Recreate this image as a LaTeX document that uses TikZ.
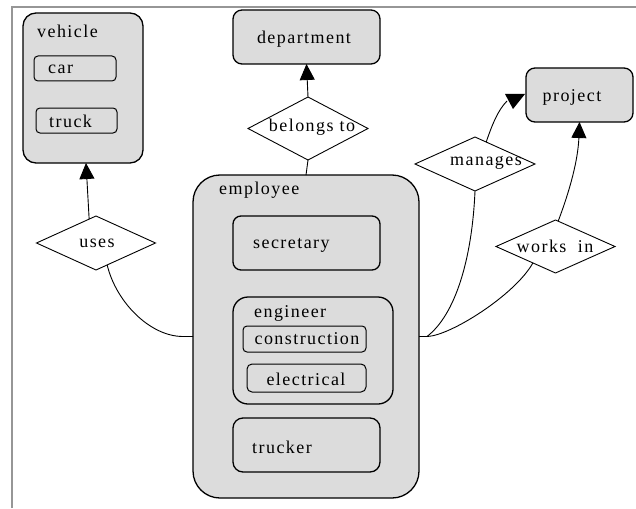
\documentclass[tikz,border=0pt]{standalone}
\usepackage{fontspec}
\setmainfont{Liberation Serif}[LetterSpace=8]
\usetikzlibrary{arrows.meta,shapes.geometric}
\definecolor{boxfill}{RGB}{220,220,220}
\definecolor{framegray}{RGB}{150,150,150}
\begin{document}
\begin{tikzpicture}[x=1pt,y=-1pt,
  font=\fontsize{18}{21}\selectfont,
  ebox/.style={draw=black, line width=1.3pt, fill=boxfill, inner sep=0pt, outer sep=0pt},
  rel/.style={draw=black, line width=0.9pt, diamond, fill=white, inner sep=0pt, outer sep=0pt},
  lbl/.style={inner sep=0pt, anchor=west},
  clbl/.style={inner sep=0pt, anchor=center},
  conn/.style={draw=black, line width=0.9pt},
  tip/.style={-{Triangle[width=15pt,length=16pt]}}
]
\useasboundingbox (0,0) rectangle (636,508);
\fill[white] (0,0) rectangle (636,508);
\draw[framegray, line width=2pt] (12,508) -- (12,7) -- (636,7);

% vehicle
\node[ebox, minimum width=120, minimum height=150, rounded corners=13pt] (veh) at (83,88) {};
\node[lbl] (vehl) at (37,31) {vehicle};
\node[ebox, line width=1pt, minimum width=82, minimum height=25, rounded corners=4pt] (car) at (75,68.5) {};
\node[lbl] (carl) at (48,69) {car};
\node[ebox, line width=1pt, minimum width=81, minimum height=25, rounded corners=4pt] (trk) at (76.5,120.5) {};
\node[lbl] (trkl) at (49,121) {truck};

% department
\node[ebox, minimum width=147, minimum height=54, rounded corners=9pt] (dep) at (306.5,37) {};
\node[clbl] (depl) at (304,39) {department};

% project
\node[ebox, minimum width=107, minimum height=54, rounded corners=9pt] (proj) at (579.5,95) {};
\node[clbl] (projl) at (572,97) {project};

% employee
\node[ebox, minimum width=226, minimum height=323, rounded corners=27pt] (emp) at (306,336.5) {};
\node[lbl] (empl) at (219,190) {employee};
\node[ebox, minimum width=147, minimum height=54, rounded corners=8pt] (sec) at (306.5,243) {};
\node[lbl] (secl) at (253,245) {secretary};
\node[ebox, minimum width=160, minimum height=107, rounded corners=15pt] (eng) at (313,350.5) {};
\node[lbl] (engl) at (254,313) {engineer};
\node[ebox, line width=1pt, minimum width=123, minimum height=26, rounded corners=4pt] (con) at (304.5,339) {};
\node[clbl] (conl) at (307,339) {construction};
\node[ebox, line width=1pt, minimum width=119, minimum height=28, rounded corners=5pt] (ele) at (306.5,378) {};
\node[clbl] (elel) at (306,379) {electrical};
\node[ebox, minimum width=147, minimum height=54, rounded corners=10pt] (tru) at (306.5,445) {};
\node[lbl] (trul) at (252,447) {trucker};

% relationships
\node[rel, minimum width=119, minimum height=54] (uses) at (96,243) {};
\node[clbl] (usesl) at (97,243) {uses};
\node[rel, minimum width=120, minimum height=63] (bel) at (308,128.5) {};
\node[clbl] (bell) at (312,127) {belongs to};
\node[rel, minimum width=120, minimum height=54] (mg) at (475,164) {};
\node[clbl] (mgl) at (486,163) {manages};
\node[rel, minimum width=119, minimum height=53] (wk) at (555.5,246.5) {};
\node[clbl] (wkl) at (555,246) {works\hspace{0.3em} in};

% connectors
\draw[conn, tip] (uses.106) -- ([xshift=3pt]veh.south);
\draw[conn, tip] (bel.north) -- (dep.south);
\draw[conn] (bel.south) -- (emp.north);
\coordinate (ul) at (183,336.5);
\draw[conn] (uses.-63) .. controls (116,302) and (150,336.5) .. (ul) -- (emp.west);
\coordinate (ej) at (427,336.5);
\draw[conn] (emp.east) -- (ej);
\draw[conn] (ej) .. controls (455,315) and (472,260) .. (mg.south);
\draw[conn] (ej) .. controls (450,336) and (515,295) .. (wk.216);
\draw[conn, tip] (wk.84) .. controls (570,190) and (578,160) .. (proj.south);
\coordinate (mt) at (507,101);
\draw[conn] (mg.63) .. controls (492,125) and (498,110) .. (mt);
\fill[black] (505,94) -- (525,94) -- (513,109) -- cycle;
\end{tikzpicture}
\end{document}
